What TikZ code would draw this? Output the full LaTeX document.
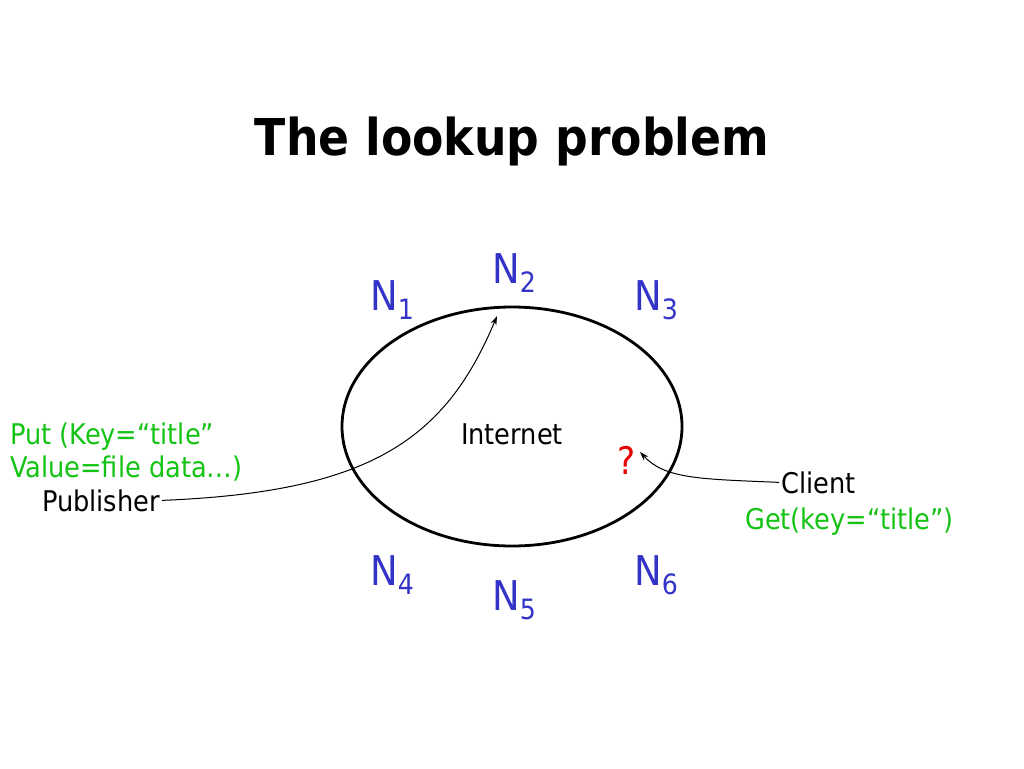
\documentclass[tikz,border=0pt]{standalone}
\usepackage{fontspec}
\setmainfont{DejaVu Sans Condensed}
\usetikzlibrary{arrows.meta,shapes.geometric}
\definecolor{tgreen}{RGB}{20,195,20}
\definecolor{nblue}{RGB}{51,51,200}
\definecolor{qred}{RGB}{230,0,0}
\tikzset{
  txt/.style={inner sep=0pt, font=\fontsize{28.5}{32}\selectfont},
  nlab/.style={inner sep=0pt, anchor=base west, text=nblue, font=\fontsize{41}{46}\selectfont},
  conn/.style={line width=1pt, -{Stealth[length=9pt,width=6pt]}},
}
\newcommand{\nsub}[1]{N\raisebox{-9pt}{\fontsize{28}{28}\selectfont #1}}
\begin{document}
\begin{tikzpicture}[x=1pt,y=-1pt]
\useasboundingbox (0,0) rectangle (1024,768);
\fill[white] (0,0) rectangle (1024,768);
\node[inner sep=0pt, anchor=base, font=\fontsize{50.8}{58}\selectfont\bfseries] (title) at (512,155) {The lookup problem};
\node[draw, line width=2.8pt, ellipse, minimum width=340pt, minimum height=239pt, inner sep=0pt] (net) at (512,426.5) {};
\node[txt, anchor=base] (internet) at (512,444) {Internet};
\node[nlab] (n1) at (370,310) {\nsub{1}};
\node[nlab] (n2) at (492,283) {\nsub{2}};
\node[nlab] (n3) at (634,310) {\nsub{3}};
\node[nlab] (n4) at (370,585) {\nsub{4}};
\node[nlab] (n5) at (492,610) {\nsub{5}};
\node[nlab] (n6) at (634,585) {\nsub{6}};
\node[txt, anchor=base west, text=tgreen] (put) at (10,444) {Put (Key=“title”};
\node[txt, anchor=base west, text=tgreen] (val) at (10,477) {Value=file data…)};
\node[txt, anchor=base east] (pub) at (160,511) {Publisher};
\node[inner sep=0pt, anchor=base, text=qred, font=\fontsize{38}{40}\selectfont] (q) at (627,474) {?};
\node[txt, anchor=base west] (client) at (781,493) {Client};
\node[txt, anchor=base west, text=tgreen] (get) at (745,529) {Get(key=“title”)};
\coordinate (t1) at (497,316);
\coordinate (t2) at (640,452);
\draw[conn] ([xshift=2pt]pub.east) .. controls (370,492) and (445,440) .. (t1);
\draw[conn] ([xshift=-2pt]client.west) .. controls (700,479) and (665,479) .. (t2);
\end{tikzpicture}
\end{document}
